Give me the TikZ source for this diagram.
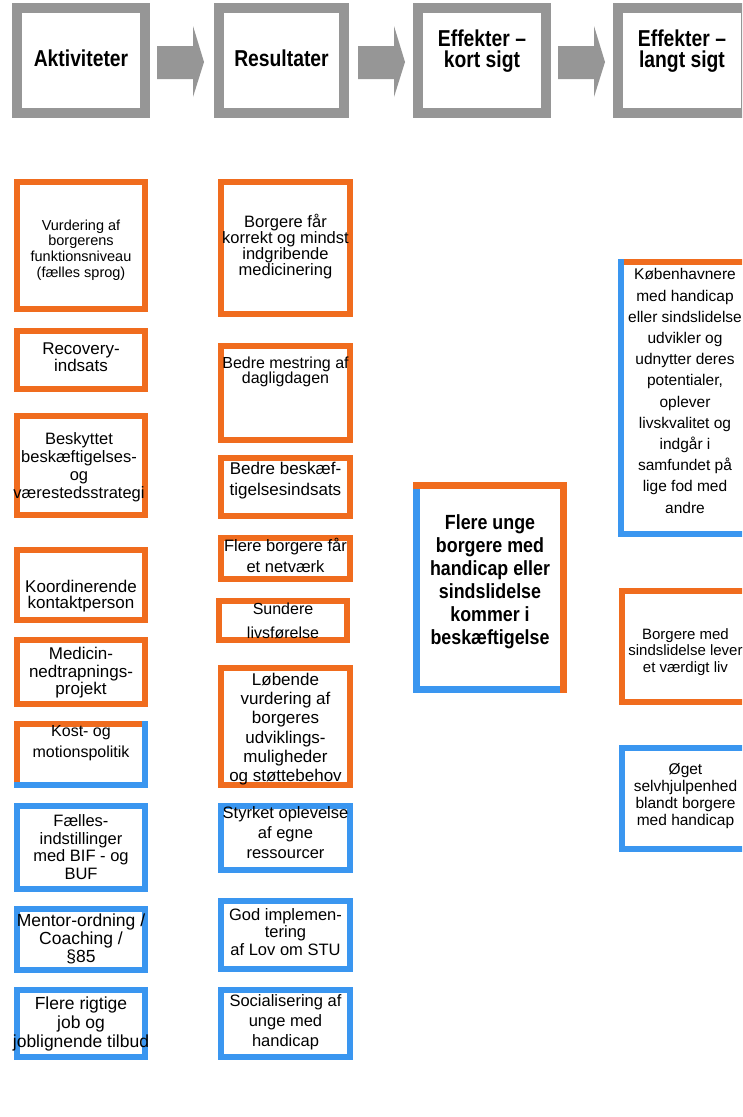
\documentclass[tikz,border=0pt]{standalone}
\usepackage{fontspec}
\setmainfont{Liberation Sans}
\newfontfamily\hdrfont[FakeStretch=0.84]{Liberation Sans}
\newfontfamily\ctrfont[FakeStretch=0.87]{Liberation Sans}
\usetikzlibrary{calc}
\definecolor{borange}{RGB}{240,108,30}
\definecolor{bblue}{RGB}{58,150,240}
\definecolor{hgray}{RGB}{150,150,150}
\begin{document}
\begin{tikzpicture}[x=1pt,y=-1pt,
  hbox/.style={draw=hgray,line width=10pt,minimum width=128pt,minimum height=105pt,inner sep=0pt},
  htext/.style={font=\hdrfont\bfseries\fontsize{23}{21}\selectfont,align=center,inner sep=0pt},
  harrow/.style={fill=hgray,draw=none},
  bx/.style 2 args={minimum width=#1pt,minimum height=#2pt,inner sep=0pt},
  ob/.style={draw=borange,line width=6pt},
  bb/.style={draw=bblue,line width=6pt},
  orl/.style={draw=borange,line width=6pt,line cap=rect},
  bll/.style={draw=bblue,line width=6pt,line cap=rect},
  tx/.style 2 args={font=\fontsize{#1}{#2}\selectfont,align=center,inner sep=0pt},
  ctx/.style={font=\ctrfont\bfseries\fontsize{20.5}{23}\selectfont,align=center,inner sep=0pt}
]
\useasboundingbox (0,0) rectangle (742,1117);
\fill[white] (0,0) rectangle (742,1117);
\clip (0,0) rectangle (742,1117);

% ---------- header ----------
\node[hbox] (h1) at (81,60.5) {};
\node[hbox,minimum width=125pt] (h2) at (281.5,60.5) {};
\node[hbox] (h3) at (482,60.5) {};
\node[hbox] (h4) at (682,60.5) {};
\node[htext] (h1t) at (81,58) {Aktiviteter};
\node[htext] (h2t) at (281.5,58) {Resultater};
\node[htext] (h3t) at (482,51) {Effekter –\\kort sigt};
\node[htext] (h4t) at (682,51) {Effekter –\\langt sigt};
% block arrows between the header boxes
\foreach \s in {0,201,401}{
  \fill[harrow,shift={(\s,0)}] (157,46) -- (193,46) -- (193,26) -- (204,62)
     -- (193,97) -- (193,79) -- (157,79) -- cycle;
}

% ---------- Aktiviteter ----------
\node[ob,bx={128}{127}] (A1) at (81,245.5) {};
\node[tx={14.5}{15.7}] (A1t) at (81,250) {Vurdering af\\borgerens\\funktionsniveau\\(fælles sprog)};
\node[ob,bx={128}{58}] (A2) at (81,360) {};
\node[tx={17}{15.7}] (A2t) at (81,357) {Recovery-\\indsats};
\node[ob,bx={128}{99}] (A3) at (81,465.5) {};
\node[tx={16.5}{18}] (A3t) at (79,467) {Beskyttet\\beskæftigelses-\\og\\værestedsstrategi};
\node[ob,bx={128}{70}] (A4) at (81,585) {};
\node[tx={17}{16}] (A4t) at (81,596) {Koordinerende\\kontaktperson};
\node[ob,bx={128}{64}] (A5) at (81,672) {};
\node[tx={17}{17.5}] (A5t) at (81,673) {Medicin-\\nedtrapnings-\\projekt};
\node[bx={128}{61}] (A6) at (81,754.5) {};
\draw[orl] (A6.south west) -- (A6.north west) -- (A6.north east);
\draw[bll] (A6.north east) -- (A6.south east) -- (A6.south west);
\node[tx={16}{21}] (A6t) at (81,743) {Kost- og\\motionspolitik};
\node[bb,bx={128}{83}] (A7) at (81,847.5) {};
\node[tx={16.5}{17.7}] (A7t) at (81,847) {Fælles-\\indstillinger\\med BIF - og\\BUF};
\node[bb,bx={128}{61}] (A8) at (81,939.5) {};
\node[tx={17.5}{18}] (A8t) at (81,939) {Mentor-ordning /\\Coaching /\\§85};
\node[bb,bx={128}{67}] (A9) at (81,1023.5) {};
\node[tx={17.5}{19}] (A9t) at (81,1024) {Flere rigtige\\job og\\joblignende tilbud};

% ---------- Resultater ----------
\node[ob,bx={129}{132}] (R1) at (285.5,248) {};
\node[tx={16.5}{16}] (R1t) at (285.5,247) {Borgere får\\korrekt og mindst\\indgribende\\medicinering};
\node[ob,bx={129}{94}] (R2) at (285.5,393) {};
\node[tx={16}{15.5}] (R2t) at (285.5,372) {Bedre mestring af\\dagligdagen};
\node[ob,bx={129}{58}] (R3) at (285.5,487) {};
\node[tx={17}{21}] (R3t) at (285.5,481) {Bedre beskæf-\\tigelsesindsats};
\node[ob,bx={129}{41}] (R4) at (285.5,558.5) {};
\node[tx={16.5}{21}] (R4t) at (285.5,555) {Flere borgere får\\et netværk};
\node[ob,bx={128}{39}] (R5) at (283,620.5) {};
\node[tx={16}{24}] (R5t) at (283,621) {Sundere\\livsførelse};
\node[ob,bx={129}{117}] (R6) at (285.5,726.5) {};
\node[tx={17}{19.3}] (R6t) at (285.5,729) {Løbende\\vurdering af\\borgeres\\udviklings-\\muligheder\\og støttebehov};
\node[bb,bx={129}{64}] (R7) at (285.5,838) {};
\node[tx={16.5}{20}] (R7t) at (285.5,833) {Styrket oplevelse\\af egne\\ressourcer};
\node[bb,bx={129}{68}] (R8) at (285.5,935) {};
\node[tx={16.5}{17.5}] (R8t) at (285.5,932) {God implemen-\\tering\\af Lov om STU};
\node[bb,bx={129}{67}] (R9) at (285.5,1023.5) {};
\node[tx={16.5}{20}] (R9t) at (285.5,1022) {Socialisering af\\unge med\\handicap};

% ---------- Effekter kort sigt ----------
\node[bx={147}{204}] (C) at (490,587.5) {};
\draw[bll,line width=7pt] (C.north west) -- (C.south west) -- (C.south east);
\draw[orl,line width=7pt] (C.north west) -- (C.north east) -- (C.south east);
\node[ctx] (Ct) at (490,582) {Flere unge\\borgere med\\handicap eller\\sindslidelse\\kommer i\\beskæftigelse};

% ---------- Effekter langt sigt ----------
\node[bx={128}{271.5}] (E1) at (685,398) {};
\draw[orl,line width=6.5pt] (E1.north west) -- (E1.north east) -- (E1.south east);
\draw[bll,line width=6.5pt] (E1.north west) -- (E1.south west) -- (E1.south east);
\node[tx={15.5}{21.2}] (E1t) at (685,391) {Københavnere\\med handicap\\eller sindslidelse\\udvikler og\\udnytter deres\\potentialer,\\oplever\\livskvalitet og\\indgår i\\samfundet på\\lige fod med\\andre};
\node[ob,bx={128}{111}] (E2) at (685.5,646.5) {};
\node[tx={15}{16.7}] (E2t) at (685.5,652) {Borgere med\\sindslidelse lever\\et værdigt liv};
\node[bb,bx={128}{101}] (E3) at (685.5,798.5) {};
\node[tx={15.5}{16.7}] (E3t) at (685.5,796) {Øget\\selvhjulpenhed\\blandt borgere\\med handicap};
\end{tikzpicture}
\end{document}
